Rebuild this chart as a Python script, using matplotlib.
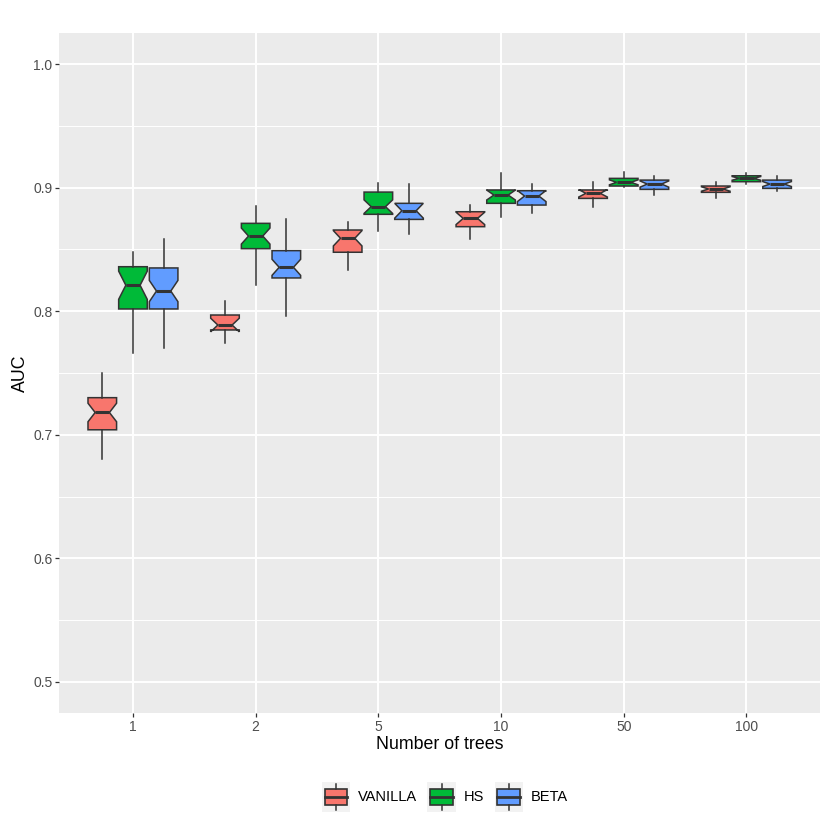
import matplotlib
matplotlib.use('Agg')
import matplotlib.pyplot as plt
from matplotlib.patches import Rectangle
from matplotlib.lines import Line2D
from matplotlib.legend_handler import HandlerBase
import numpy as np

plt.rcParams['font.family'] = ['Liberation Sans', 'DejaVu Sans']

# ── data ───────────────────────────────────────────────────
trees  = ['1', '2', '5', '10', '50', '100']
groups = ['VANILLA', 'HS', 'BETA']
colors = {'VANILLA': '#F8766D', 'HS': '#00BA38', 'BETA': '#619CFF'}

vanilla_whislo = [0.680, 0.7745, 0.8333, 0.8582, 0.8846, 0.8913]
vanilla_q1     = [0.704, 0.7848, 0.8477, 0.8684, 0.8913, 0.8962]
vanilla_med    = [0.718, 0.7888, 0.8590, 0.8751, 0.8954, 0.8989]
vanilla_q3     = [0.730, 0.7969, 0.8657, 0.8805, 0.8981, 0.9013]
vanilla_whishi = [0.750, 0.8080, 0.8724, 0.8859, 0.9048, 0.9048]
vanilla_notch  = [0.0075, 0.0055, 0.0062, 0.005, 0.003, 0.0018]

hs_whislo = [0.7664, 0.8212, 0.8649, 0.8765, 0.9002, 0.9029]
hs_q1     = [0.8018, 0.8506, 0.8784, 0.8873, 0.9013, 0.9048]
hs_med    = [0.8210, 0.8608, 0.8846, 0.8940, 0.9043, 0.9075]
hs_q3     = [0.8360, 0.8711, 0.8964, 0.8981, 0.9075, 0.9096]
hs_whishi = [0.8477, 0.8849, 0.9040, 0.9115, 0.9124, 0.9115]
hs_notch  = [0.0114, 0.0065, 0.0055, 0.004, 0.002, 0.0015]

beta_whislo = [0.7700, 0.7964, 0.8625, 0.8792, 0.8940, 0.8975]
beta_q1     = [0.8018, 0.8269, 0.8743, 0.8859, 0.8986, 0.8994]
beta_med    = [0.8163, 0.8355, 0.8813, 0.8932, 0.9029, 0.9029]
beta_q3     = [0.8350, 0.8490, 0.8873, 0.8975, 0.9061, 0.9061]
beta_whishi = [0.8587, 0.8748, 0.9029, 0.9029, 0.9094, 0.9094]
beta_notch  = [0.0086, 0.0065, 0.006, 0.0045, 0.0025, 0.002]

data = {
    'VANILLA': (vanilla_whislo, vanilla_q1, vanilla_med, vanilla_q3, vanilla_whishi, vanilla_notch),
    'HS':      (hs_whislo, hs_q1, hs_med, hs_q3, hs_whishi, hs_notch),
    'BETA':    (beta_whislo, beta_q1, beta_med, beta_q3, beta_whishi, beta_notch),
}

EDGE = '#333333'
PANEL = '#EBEBEB'


class BoxKey(HandlerBase):
    """ggplot-style boxplot legend key"""
    def create_artists(self, legend, orig, xd, yd, w, h, fontsize, trans):
        x0, y0 = -xd, -yd
        bg = Rectangle((x0, y0), w, h, fc='#F2F2F2', ec='none', transform=trans)
        box = Rectangle((x0 + 0.1 * w, y0 + 0.23 * h), 0.8 * w, 0.54 * h,
                        fc=orig.get_facecolor(), ec=EDGE, lw=1.2, transform=trans)
        med = Line2D([x0 + 0.1 * w, x0 + 0.9 * w], [y0 + 0.5 * h] * 2,
                     color=EDGE, lw=2.0, transform=trans)
        wt = Line2D([x0 + 0.5 * w] * 2, [y0 + 0.77 * h, y0 + 0.96 * h],
                    color=EDGE, lw=1.1, transform=trans)
        wb = Line2D([x0 + 0.5 * w] * 2, [y0 + 0.04 * h, y0 + 0.23 * h],
                    color=EDGE, lw=1.1, transform=trans)
        return [bg, box, med, wt, wb]


fig = plt.figure(figsize=(8.3, 8.3), dpi=100)
ax = fig.add_axes([0.0715, 0.1413, 0.9165, 0.8187])
ax.set_facecolor(PANEL)

x = np.arange(1, len(trees) + 1)
offsets = [-0.25, 0.0, 0.25]
handles = []
for g, off in zip(groups, offsets):
    wl, q1, md, q3, wh, nt = data[g]
    stats = []
    for i in range(len(trees)):
        stats.append(dict(whislo=wl[i], q1=q1[i], med=md[i], q3=q3[i], whishi=wh[i],
                          cilo=md[i] - nt[i], cihi=md[i] + nt[i], fliers=[]))
    ax.bxp(stats, positions=x + off, widths=0.233, shownotches=True, patch_artist=True,
           showcaps=False, showfliers=False, manage_ticks=False,
           boxprops=dict(facecolor=colors[g], edgecolor=EDGE, linewidth=1.1),
           medianprops=dict(color=EDGE, linewidth=2.2, solid_capstyle='butt'),
           whiskerprops=dict(color=EDGE, linewidth=1.1))
    handles.append(Rectangle((0, 0), 1, 1, fc=colors[g], ec=EDGE, label=g))

ax.set_xlim(0.4, 6.6)
ax.set_ylim(0.475, 1.025)
ax.set_xticks(x)
ax.set_xticklabels(trees)
ax.set_yticks([0.5, 0.6, 0.7, 0.8, 0.9, 1.0])
ax.set_yticklabels(['0.5', '0.6', '0.7', '0.8', '0.9', '1.0'])
ax.set_yticks([0.55, 0.65, 0.75, 0.85, 0.95], minor=True)

ax.set_axisbelow(True)
ax.grid(True, which='major', color='white', linewidth=1.4)
ax.grid(True, which='minor', axis='y', color='white', linewidth=0.7)
for s in ax.spines.values():
    s.set_visible(False)
ax.tick_params(which='major', length=3, width=0.9, color=EDGE, labelcolor='#4D4D4D',
               labelsize=10, pad=2.0)
ax.tick_params(which='minor', length=0)

ax.set_xlabel('Number of trees', fontsize=12.8, color='black', labelpad=2)
ax.set_ylabel('AUC', fontsize=12.8, color='black', labelpad=3)

fig.legend(handles=handles, labels=groups, loc='center', bbox_to_anchor=(0.536, 0.0398),
           ncol=3, frameon=False, fontsize=10.5, handler_map={Rectangle: BoxKey()},
           handlelength=1.95, handleheight=2.7, handletextpad=0.55, columnspacing=0.7)

fig.savefig('out.png', dpi=100, facecolor='white')
